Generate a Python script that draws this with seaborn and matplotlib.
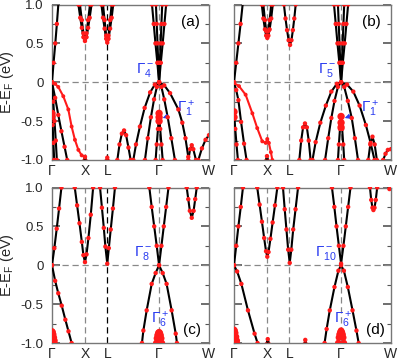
import numpy as np
import pandas as pd
import matplotlib
matplotlib.use("Agg")
import matplotlib.pyplot as plt
import seaborn as sns

sns.set_theme(style="white")
plt.rcParams['font.family'] = ['Liberation Sans', 'DejaVu Sans']
plt.rcParams['mathtext.fontset'] = 'custom'
plt.rcParams['mathtext.rm'] = 'Liberation Sans'
plt.rcParams['mathtext.it'] = 'Liberation Sans'

# ---------------- data ----------------
KPOS = [0.0, 0.21, 0.352, 0.682, 1.0]
KLABELS = ['Γ', 'X', 'L', 'Γ', 'W']
YTICKS = [-1.0, -0.5, 0.0, 0.5, 1.0]
YLABELS = ['-1.0', '-0.5', '0', '0.5', '1.0']

# panel (a): black bands (k list, E list)
A_BANDS = [
    ([0, 0.01, 0.021, 0.031, 0.041], [0, 0.25, 0.5, 0.75, 1.02]),
    ([0, 0.008, 0.016, 0.024, 0.031], [0, -0.25, -0.5, -0.75, -1.0]),
    ([0, 0.02, 0.04, 0.06, 0.08, 0.097], [0, -0.2, -0.42, -0.63, -0.83, -1.0]),
    ([0, 0.004, 0.009, 0.014], [-0.4, -0.55, -0.78, -1.0]),
    ([0.168, 0.18, 0.19, 0.2, 0.21, 0.22, 0.23, 0.24, 0.252], [1.0, 0.83, 0.7, 0.58, 0.53, 0.58, 0.7, 0.83, 1.0]),
    ([0.178, 0.19, 0.2, 0.21, 0.22, 0.23, 0.242], [1.0, 0.8, 0.63, 0.56, 0.63, 0.8, 1.0]),
    ([0.315, 0.325, 0.335, 0.345, 0.352, 0.36, 0.37, 0.38, 0.39], [1.0, 0.83, 0.69, 0.56, 0.51, 0.56, 0.69, 0.83, 1.0]),
    ([0.325, 0.335, 0.345, 0.352, 0.36, 0.37, 0.38], [1.0, 0.8, 0.6, 0.54, 0.6, 0.8, 1.0]),
    ([0.2, 0.21, 0.22], [-1.02, -0.96, -1.02]),
    ([0.342, 0.352, 0.362], [-1.02, -0.97, -1.02]),
    ([0.416, 0.43, 0.445, 0.459, 0.472, 0.487, 0.501], [-1.0, -0.8, -0.66, -0.62, -0.68, -0.84, -1.0]),
    ([0.637, 0.648, 0.659, 0.671, 0.682, 0.693, 0.705, 0.716, 0.727], [1.0, 0.75, 0.5, 0.25, 0.0, 0.25, 0.5, 0.75, 1.0]),
    ([0.662, 0.667, 0.672, 0.677, 0.682, 0.687, 0.692, 0.697, 0.702], [1.0, 0.75, 0.5, 0.25, 0.0, 0.25, 0.5, 0.75, 1.0]),
    ([0.518, 0.535, 0.56, 0.59, 0.625, 0.655, 0.682, 0.715, 0.752, 0.805, 0.83, 0.85, 0.868],
     [-1.0, -0.8, -0.57, -0.33, -0.13, -0.03, 0, -0.04, -0.14, -0.35, -0.52, -0.72, -0.96]),
    ([0.592, 0.61, 0.63, 0.65, 0.668, 0.682, 0.697, 0.715, 0.737, 0.76, 0.783],
     [-1.0, -0.72, -0.45, -0.22, -0.06, 0, -0.06, -0.22, -0.45, -0.72, -1.0]),
    ([0.66, 0.667, 0.675, 0.682, 0.689, 0.697, 0.705], [-1.0, -0.8, -0.6, -0.42, -0.6, -0.8, -1.0]),
    ([0.868, 0.88, 0.89, 0.90, 0.917], [-1.0, -0.86, -0.81, -0.86, -1.0]),
    ([0.932, 0.955, 0.978, 1.0], [-1.0, -0.85, -0.74, -0.68]),
]
A_RED = [([0, 0.02, 0.04, 0.072, 0.104, 0.125, 0.146, 0.168, 0.189, 0.21],
          [0, -0.02, -0.06, -0.18, -0.35, -0.57, -0.74, -0.87, -0.94, -0.96])]
A_FAT = ([0, 0, 0.682, 0.682, 0.682], [-0.4, -0.44, -0.4, -0.45, -0.5])

# panel (b)
B_BANDS = [
    ([0, 0.014, 0.028, 0.042, 0.056], [0, 0.25, 0.5, 0.75, 1.02]),
    ([0, 0.014, 0.028, 0.045, 0.064, 0.08], [0, -0.1, -0.23, -0.51, -0.79, -1.0]),
    ([0, 0.008, 0.016, 0.025], [-0.38, -0.6, -0.8, -1.0]),
    ([0.177, 0.187, 0.197, 0.205, 0.212, 0.219, 0.227, 0.237, 0.247], [1.0, 0.82, 0.68, 0.6, 0.57, 0.6, 0.68, 0.82, 1.0]),
    ([0.187, 0.197, 0.205, 0.212, 0.219, 0.227, 0.237], [1.0, 0.8, 0.66, 0.6, 0.66, 0.8, 1.0]),
    ([0.318, 0.328, 0.338, 0.348, 0.357, 0.366, 0.375, 0.384, 0.393], [1.0, 0.82, 0.67, 0.54, 0.48, 0.54, 0.67, 0.82, 1.0]),
    ([0.2, 0.21, 0.22], [-1.02, -0.95, -1.02]),
    ([0.416, 0.428, 0.44, 0.452, 0.464, 0.476, 0.488], [-1.0, -0.75, -0.58, -0.53, -0.58, -0.75, -1.0]),
    ([0.637, 0.648, 0.659, 0.671, 0.682, 0.693, 0.705, 0.716, 0.727], [1.0, 0.75, 0.5, 0.25, 0.0, 0.25, 0.5, 0.75, 1.0]),
    ([0.662, 0.667, 0.672, 0.677, 0.682, 0.687, 0.692, 0.697, 0.702], [1.0, 0.75, 0.5, 0.25, 0.0, 0.25, 0.5, 0.75, 1.0]),
    ([0.5, 0.52, 0.55, 0.585, 0.62, 0.655, 0.682, 0.72, 0.76, 0.8, 0.84, 0.87, 0.895],
     [-1.0, -0.77, -0.52, -0.3, -0.12, -0.02, 0, -0.03, -0.12, -0.3, -0.55, -0.78, -1.0]),
    ([0.58, 0.6, 0.62, 0.64, 0.662, 0.682, 0.702, 0.725, 0.75, 0.77, 0.79],
     [-1.0, -0.72, -0.46, -0.24, -0.06, 0, -0.06, -0.24, -0.46, -0.72, -1.0]),
    ([0.662, 0.668, 0.675, 0.682, 0.689, 0.696, 0.702], [-1.0, -0.8, -0.6, -0.44, -0.6, -0.8, -1.0]),
    ([0.855, 0.868, 0.882, 0.896, 0.91], [-1.0, -0.8, -0.7, -0.8, -1.0]),
    ([0.95, 0.965, 0.98, 1.0], [-1.0, -0.92, -0.87, -0.86]),
]
B_RED = [([0, 0.032, 0.074, 0.117, 0.148, 0.18, 0.202, 0.212, 0.222, 0.235, 0.244],
          [-0.01, -0.05, -0.16, -0.4, -0.59, -0.76, -0.78, -0.73, -0.78, -0.9, -1.0])]
B_FAT = ([0, 0, 0.682, 0.682, 0.682], [-0.38, -0.45, -0.44, -0.52, -0.58])

# panel (c)
C_BANDS = [
    ([0, 0.015, 0.03, 0.045, 0.06], [0, 0.22, 0.47, 0.73, 1.0]),
    ([0, 0.02, 0.04, 0.062, 0.085, 0.105, 0.125], [0, -0.2, -0.36, -0.52, -0.7, -0.85, -1.0]),
    ([0.145, 0.16, 0.175, 0.19, 0.2, 0.21, 0.22, 0.232, 0.247, 0.262], [1.0, 0.77, 0.54, 0.3, 0.13, 0.04, 0.14, 0.35, 0.65, 1.0]),
    ([0.306, 0.318, 0.33, 0.34, 0.352, 0.362, 0.374, 0.388, 0.401], [1.0, 0.74, 0.48, 0.24, 0.02, 0.22, 0.46, 0.73, 1.0]),
    ([0.62, 0.635, 0.651, 0.667, 0.682, 0.697, 0.712, 0.727, 0.742], [1.0, 0.75, 0.5, 0.25, 0, 0.25, 0.5, 0.75, 1.0]),
    ([0.573, 0.582, 0.603, 0.635, 0.66, 0.682, 0.705, 0.73, 0.762, 0.788, 0.796],
     [-1.0, -0.84, -0.58, -0.24, -0.1, 0, -0.1, -0.24, -0.58, -0.88, -1.0]),
    ([0.858, 0.868, 0.878, 0.89, 0.902, 0.912, 0.922], [1.0, 0.85, 0.7, 0.61, 0.7, 0.85, 1.0]),
]
C_FAT = [([0, 0.004, 0.008, 0.012, 0.016, 0.02], [-0.85, -0.86, -0.89, -0.93, -0.97, -1.02]),
         ([0.664, 0.668, 0.672, 0.677, 0.682, 0.687, 0.692, 0.696, 0.7], [-1.0, -0.94, -0.9, -0.87, -0.86, -0.87, -0.9, -0.94, -1.0])]

# panel (d)
D_BANDS = [
    ([0, 0.014, 0.028, 0.043, 0.057], [0, 0.25, 0.5, 0.75, 1.0]),
    ([0, 0.02, 0.047, 0.089, 0.131, 0.15], [0, -0.08, -0.24, -0.58, -0.88, -1.0]),
    ([0.148, 0.163, 0.178, 0.192, 0.204, 0.212, 0.22, 0.232, 0.246, 0.261, 0.276],
     [1.0, 0.78, 0.56, 0.35, 0.18, 0.11, 0.17, 0.34, 0.55, 0.77, 1.0]),
    ([0.312, 0.323, 0.334, 0.345, 0.355, 0.365, 0.377, 0.392, 0.408], [1.0, 0.72, 0.46, 0.2, 0.03, 0.2, 0.46, 0.72, 1.0]),
    ([0.205, 0.215, 0.225], [-1.02, -0.95, -1.02]),
    ([0.447, 0.454, 0.461], [-1.02, -0.96, -1.02]),
    ([0.624, 0.639, 0.653, 0.668, 0.682, 0.697, 0.712, 0.727, 0.742], [1.0, 0.75, 0.5, 0.25, 0.02, 0.25, 0.5, 0.75, 1.0]),
    ([0.577, 0.59, 0.61, 0.64, 0.665, 0.682, 0.7, 0.725, 0.755, 0.78, 0.794],
     [-1.0, -0.82, -0.58, -0.28, -0.07, 0, -0.07, -0.28, -0.58, -0.84, -1.0]),
    ([0.866, 0.874, 0.882, 0.888, 0.895, 0.903, 0.912], [1.0, 0.84, 0.74, 0.71, 0.74, 0.84, 1.0]),
    ([0.975, 0.99, 1.0], [1.05, 0.98, 0.99]),
]
D_FAT = [([0, 0.004, 0.008, 0.013, 0.018, 0.022], [-0.83, -0.84, -0.87, -0.92, -0.97, -1.02]),
         ([0.664, 0.668, 0.672, 0.677, 0.682, 0.687, 0.692, 0.696, 0.7], [-1.0, -0.93, -0.89, -0.86, -0.84, -0.86, -0.89, -0.93, -1.0])]

L_LINE_COLOR = {'a': 'black', 'b': '#888888', 'c': 'black', 'd': '#888888'}

# ---------------- figure ----------------
W, H = 399, 360
fig = plt.figure(figsize=(W / 100, H / 100), dpi=100)
colx = [52 / W, 234 / W]
rowy = [1 - 160 / H, 1 - 343 / H]
aw, ah = 157 / W, 155.5 / H

BLUE = '#2a3cf0'
RED = '#ff1a1a'


def to_df(bands):
    rows = []
    for i, (ks, es) in enumerate(bands):
        for k, e in zip(ks, es):
            rows.append({'band': i, 'k': k, 'E': e})
    return pd.DataFrame(rows)


def draw(ax, name, bands, red=None, fat=None, fatlines=None):
    ax.set_xlim(0, 1)
    ax.set_ylim(-1, 1)
    ax.axhline(0, color='#888888', lw=0.9, ls=(0, (5, 3)), zorder=1)
    for kp, c in zip(KPOS[1:4], ['#888888', L_LINE_COLOR[name], '#888888']):
        ax.axvline(kp, color=c, lw=0.9, ls=(0, (5, 3)), zorder=1)
    df = to_df(bands)
    sns.lineplot(data=df, x='k', y='E', units='band', estimator=None, sort=False,
                 color='black', lw=1.5, ax=ax, zorder=3)
    sns.scatterplot(data=df, x='k', y='E', color=RED, s=10, edgecolor='none', ax=ax, zorder=4)
    if red is not None:
        dr = to_df(red)
        sns.lineplot(data=dr, x='k', y='E', units='band', estimator=None, sort=False,
                     color=RED, lw=1.5, ax=ax, zorder=3)
        sns.scatterplot(data=dr, x='k', y='E', color=RED, s=8, edgecolor='none', ax=ax, zorder=4)
    if fat is not None:
        sns.scatterplot(x=fat[0], y=fat[1], color=RED, s=28, edgecolor='none', ax=ax, zorder=5)
    if fatlines is not None:
        dfat = to_df(fatlines)
        sns.lineplot(data=dfat, x='k', y='E', units='band', estimator=None, sort=False,
                     color=RED, lw=2.5, ax=ax, zorder=3)
        sns.scatterplot(data=dfat, x='k', y='E', color=RED, s=22, edgecolor='none', ax=ax, zorder=4)
    ax.set_xticks(KPOS)
    ax.set_xticklabels(KLABELS)
    ax.set_yticks(YTICKS)
    ax.set_yticks([-0.75, -0.25, 0.25, 0.75], minor=True)
    ax.tick_params(axis='x', length=0, pad=3, labelsize=10)
    ax.tick_params(axis='y', which='major', direction='in', length=6, width=1.2,
                   left=True, right=True, color='#555555', labelsize=9.5, pad=6)
    ax.tick_params(axis='y', which='minor', direction='in', length=3, width=0.8,
                   left=True, right=True, color='#555555')
    ax.set_xlabel('')
    ax.set_ylabel('')
    for s in ax.spines.values():
        s.set_color('#777777')
        s.set_linewidth(1.0)
    ax.text({'a': 0.879, 'b': 0.873, 'c': 0.89, 'd': 0.898}[name],
            {'a': 0.78, 'b': 0.78, 'c': -0.83, 'd': -0.83}[name],
            '(%s)' % name, ha='center', va='center', fontsize=11, color='black')


axes = {}
for name, (cx, ry) in zip('abcd', [(0, 0), (1, 0), (0, 1), (1, 1)]):
    axes[name] = fig.add_axes([colx[cx], rowy[ry], aw, ah])

draw(axes['a'], 'a', A_BANDS, red=A_RED, fat=A_FAT)
draw(axes['b'], 'b', B_BANDS, red=B_RED, fat=B_FAT)
draw(axes['c'], 'c', C_BANDS, fatlines=C_FAT)
draw(axes['d'], 'd', D_BANDS, fatlines=D_FAT)

for name in 'ac':
    axes[name].set_yticklabels(YLABELS)
    axes[name].set_ylabel(r'E-E$_\mathregular{F}$ (eV)', fontsize=10.5, labelpad=3)
for name in 'bd':
    axes[name].set_yticklabels([])

lab = dict(fontsize=11, color=BLUE, ha='center', va='center')
axes['a'].text(0.592, 0.16, r'$\Gamma_4^-$', **lab)
axes['b'].text(0.592, 0.16, r'$\Gamma_5^-$', **lab)
axes['c'].text(0.58, 0.16, r'$\Gamma_8^-$', **lab)
axes['d'].text(0.586, 0.16, r'$\Gamma_{10}^-$', **lab)
axes['c'].text(0.688, -0.70, r'$\Gamma_6^+$', **lab)
axes['d'].text(0.697, -0.70, r'$\Gamma_6^+$', **lab)
for name, kx in [('a', 0.853), ('b', 0.866)]:
    axes[name].annotate(r'$\Gamma_1^+$', xy=(0.705, -0.46), xytext=(kx, -0.35),
                        fontsize=11, color=BLUE, ha='center', va='center',
                        arrowprops=dict(arrowstyle='-|>', color=BLUE, lw=0.8,
                                        mutation_scale=7, shrinkA=7, shrinkB=0))

fig.savefig('out.png', dpi=100)
